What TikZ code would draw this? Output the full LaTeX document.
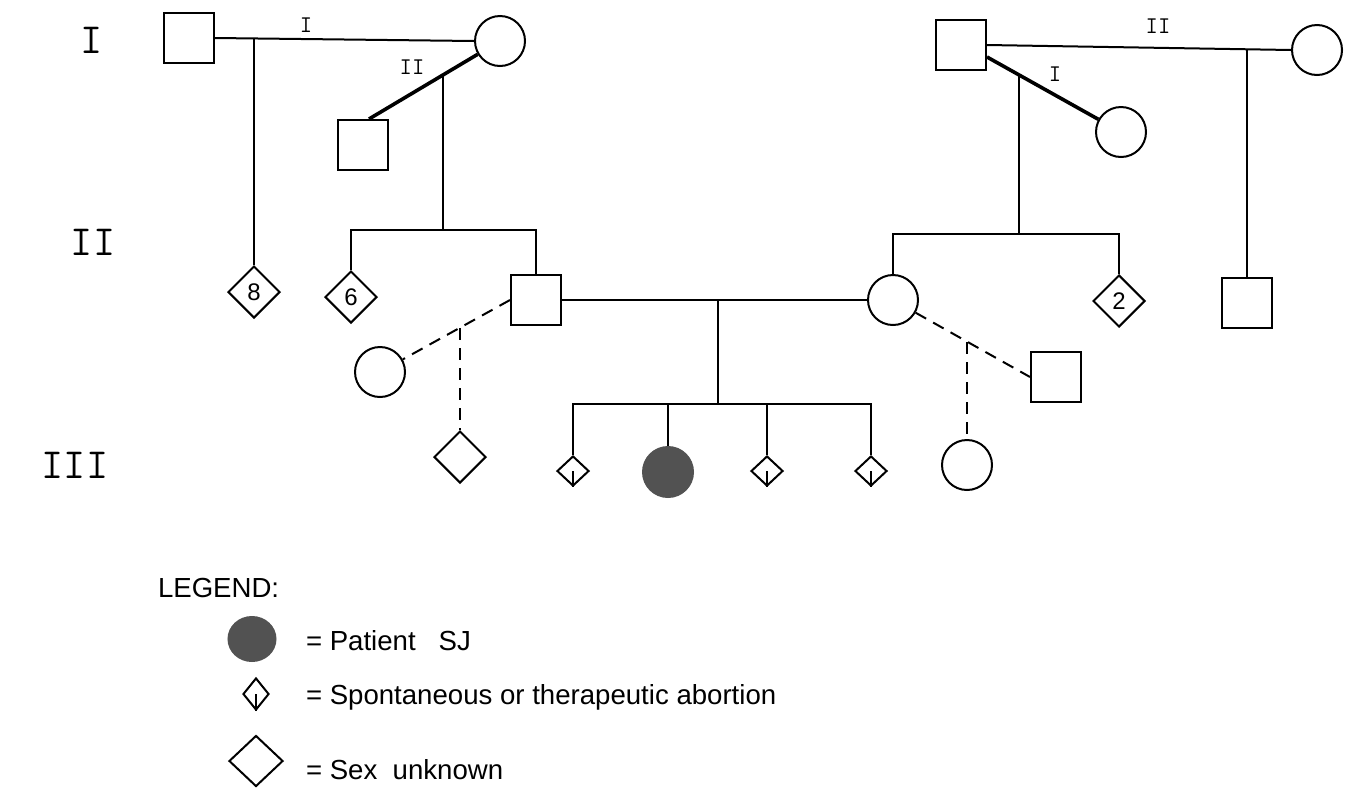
\documentclass[tikz,border=0pt]{standalone}
\usepackage{fontspec}
\usetikzlibrary{shapes.geometric,calc}
\newfontfamily\lgfont{Liberation Sans}
\definecolor{patient}{rgb}{0.32,0.32,0.32}
\begin{document}
\begin{tikzpicture}[x=0.5pt,y=-0.5pt,
 line width=1pt,
 male/.style={draw,rectangle,minimum width=25pt,minimum height=25pt,inner sep=0pt},
 female/.style={draw,ellipse,minimum width=25pt,minimum height=25pt,inner sep=0pt},
 unk/.style={draw,diamond,minimum width=26pt,minimum height=26pt,inner sep=0pt,font=\lgfont\fontsize{12}{12}\selectfont},
 abort/.style={draw,diamond,minimum width=16pt,minimum height=15pt,inner sep=0pt},
 affected/.style={female,fill=patient,draw=patient},
 dashline/.style={dash pattern=on 6pt off 4pt},
 thickline/.style={line width=1.8pt},
 gen/.style={font=\ttfamily\fontsize{21.5}{21.5}\selectfont,inner sep=0pt},
 mlabel/.style={font=\ttfamily\fontsize{12}{12}\selectfont,inner sep=0pt},
 lgtext/.style={anchor=west,font=\lgfont\fontsize{13.8}{14}\selectfont,inner sep=0pt}
]
\useasboundingbox (0,0) rectangle (1353,788);

% generation labels
\node[gen] (g1) at (92,40) {I};
\node[gen] (g2) at (93,242) {II};
\node[gen] (g3) at (75,465) {III};

% ---- generation I, left
\node[male] (S1) at (189,38) {};
\node[female] (C1) at (500,41) {};
\node[male] (S2) at (363,145) {};
\node[mlabel] (l1) at (306,25) {I};
\node[mlabel] (l2) at (412,67) {II};

% ---- generation I, right
\node[male] (S4) at (961,45) {};
\node[female] (C2) at (1317,50) {};
\node[female] (C3) at (1121,132) {};
\node[mlabel] (l3) at (1158,26) {II};
\node[mlabel] (l4) at (1055,74) {I};

% ---- generation II
\node[unk] (D8) at (254,292) {8};
\node[unk] (D6) at (351,297) {6};
\node[male] (S3) at (536,300) {};
\node[female] (Cd) at (380,372) {};
\node[female] (C4) at (893,300) {};
\node[unk] (D2) at (1119,301) {2};
\node[male] (S5) at (1247,303) {};
\node[male] (S6) at (1056,377) {};

% ---- generation III
\node[unk] (Du) at (460,457) {};
\node[abort] (a1) at (573,471) {};
\node[affected] (P) at (668,472) {};
\node[abort] (a2) at (767,471) {};
\node[abort] (a3) at (871,471) {};
\node[female] (C5) at (967,465) {};
\foreach \n in {a1,a2,a3} \draw (\n.center) -- (\n.south);

% ---- connectors, left family
\draw (S1.east) -- (C1.west);
\coordinate (j1) at (254,39);
\draw (j1) -- (D8.north);
\draw[thickline] (C1) -- ([xshift=3pt]S2.north);
\coordinate (j2) at (443,75);
\coordinate (sb1) at (443,230);
\draw (j2) -- (sb1);
\draw (D6.north) |- (sb1) -| (S3.north);

% ---- connectors, right family
\draw (S4.east) -- (C2.west);
\coordinate (j6) at (1247,49);
\draw (j6) -- (S5.north);
\draw[thickline] ([yshift=-6pt]S4.east) -- (C3);
\coordinate (j7) at (1019,75);
\coordinate (sb2) at (1019,234);
\draw (j7) -- (sb2);
\draw (C4.north) |- (sb2) -| (D2.north);

% ---- marriage of generation II
\draw (S3.east) -- (C4.west);
\coordinate (j3) at (718,300);
\coordinate (sb3) at (718,404);
\draw (j3) -- (sb3);
\draw (a1.north) |- (sb3) -| (a3.north);
\draw (P.north) -- (P.north |- sb3);
\draw (a2.north) -- (a2.north |- sb3);

% ---- dashed unions
\draw[dashline] (S3.west) -- (Cd);
\coordinate (j4) at (460,328);
\draw[dashline] (j4) -- (Du.north);
\draw[dashline] (C4) -- (S6.west);
\coordinate (j5) at (967,342);
\draw[dashline] (j5) -- (C5.north);

% ---- legend
\node[lgtext] (lg) at (157,588) {LEGEND:};
\node[affected,minimum width=23.5pt,minimum height=22pt] (LP) at (252,639) {};
\node[lgtext] (lt1) at (305,641) {= Patient\ \ \ SJ};
\node[abort,minimum width=13pt,minimum height=16pt] (LA) at (256,694) {};
\draw (LA.center) -- (LA.south);
\node[lgtext] (lt2) at (305,697) {= Spontaneous or therapeutic abortion};
\node[unk,minimum width=27pt,minimum height=25.5pt] (LU) at (256,761) {};
\node[lgtext] (lt3) at (305,770) {= Sex\ \ unknown};
\end{tikzpicture}
\end{document}
